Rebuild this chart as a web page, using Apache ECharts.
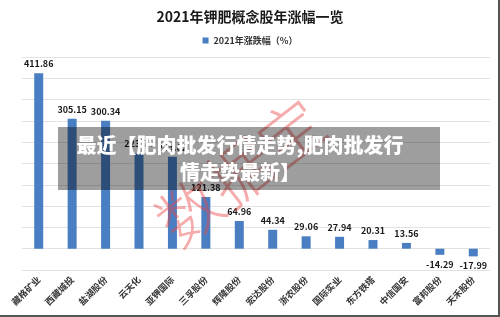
<!DOCTYPE html>
<html>
<head>
<meta charset="utf-8">
<script src="https://cdn.jsdelivr.net/npm/echarts@6.0.0/dist/echarts.min.js"></script>
<style>
  html, body { margin: 0; padding: 0; background: #fff; }
  #chart { width: 500px; height: 317px; }
</style>
</head>
<body>
<div id="chart"></div>
<script>
  const stocks = ['藏格矿业', '西藏城投', '盐湖股份', '云天化', '亚钾国际', '三孚股份', '辉隆股份',
    '宏达股份', '浙农股份', '国际实业', '东方铁塔', '中信国安', '富邦股份', '天禾股份']
  const change2021 = [411.86, 305.15, 300.34, 223.74, 215.62, 121.38, 64.96,
    44.34, 29.06, 27.94, 20.31, 13.56, -14.29, -17.99]
  const seriesName = '2021年涨跌幅（%）'
  const bannerLines = ['最近【肥肉批发行情走势,肥肉批发行', '情走势最新】']

  const font = '"Noto Sans CJK SC", "Noto Sans", sans-serif'
  const chart = echarts.init(document.getElementById('chart'))
  chart.setOption({
    animation: false,
    textStyle: { fontFamily: font },
    title: {
      text: '2021年钾肥概念股年涨幅一览',
      left: 'center',
      top: 5,
      textStyle: { fontSize: 14, fontWeight: 'bold', color: '#1a1a1a' }
    },
    legend: {
      top: 31,
      left: 'center',
      itemWidth: 6,
      itemHeight: 6,
      icon: 'rect',
      textStyle: { fontSize: 9, fontWeight: 'bold', color: '#333' },
      data: [seriesName]
    },
    grid: { left: 22, right: 10, top: 57, bottom: 47 },
    xAxis: {
      type: 'category',
      data: stocks,
      axisLine: { show: false, onZero: false },
      axisTick: { show: false },
      axisLabel: { rotate: 45, fontSize: 9, fontWeight: 'bold', color: '#333', margin: 8, interval: 0 }
    },
    yAxis: {
      type: 'value',
      min: -50,
      max: 450,
      interval: 50,
      axisLabel: { show: false },
      axisLine: { show: false },
      axisTick: { show: false },
      splitLine: { lineStyle: { color: '#e2e2e2', width: 1 } }
    },
    series: [{
      name: seriesName,
      type: 'bar',
      barWidth: 9,
      itemStyle: { color: '#4a7ec2' },
      data: change2021.map(v => ({
        value: v,
        label: { position: v < 0 ? 'bottom' : 'top' }
      })),
      label: {
        show: true,
        distance: 5,
        fontSize: 9,
        fontWeight: 'bold',
        color: '#1a1a1a',
        formatter: p => p.value.toFixed(2)
      }
    }],
    graphic: [
      {
        type: 'text',
        x: 240, y: 172,
        rotation: 0.66,
        z: 50,
        style: {
          text: '数据宝',
          font: '300 64px ' + font,
          fill: 'rgba(235,70,70,0.45)',
          textAlign: 'center',
          textVerticalAlign: 'middle'
        }
      },
      {
        type: 'rect',
        z: 60,
        shape: { x: 58, y: 127, width: 382, height: 63 },
        style: { fill: 'rgba(0,0,0,0.38)' }
      },
      {
        type: 'text',
        z: 61,
        x: 240, y: 145,
        style: {
          text: bannerLines[0],
          font: '900 20px ' + font,
          fill: '#fff',
          textAlign: 'center',
          textVerticalAlign: 'middle'
        }
      },
      {
        type: 'text',
        z: 61,
        x: 240, y: 172,
        style: {
          text: bannerLines[1],
          font: '900 20px ' + font,
          fill: '#fff',
          textAlign: 'center',
          textVerticalAlign: 'middle'
        }
      },
      {
        type: 'line',
        z: 70,
        shape: { x1: 499, y1: 0, x2: 499, y2: 317 },
        style: { stroke: '#555', lineWidth: 2 }
      },
      {
        type: 'line',
        z: 70,
        shape: { x1: 0, y1: 316, x2: 500, y2: 316 },
        style: { stroke: '#555', lineWidth: 2 }
      }
    ]
  })
</script>
</body>
</html>
